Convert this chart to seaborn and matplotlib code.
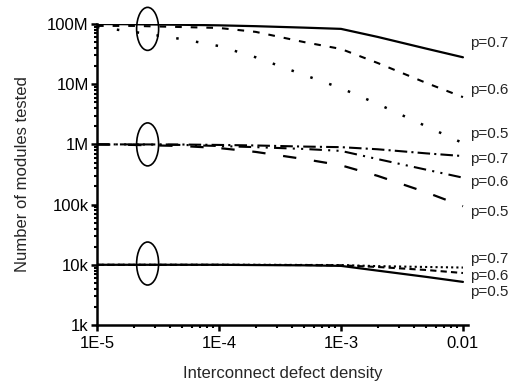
import matplotlib
matplotlib.use("Agg")
import matplotlib.pyplot as plt
import matplotlib.transforms as mtransforms
from matplotlib.patches import Ellipse
from matplotlib.ticker import LogLocator, NullFormatter, FixedLocator, FixedFormatter
import numpy as np
import pandas as pd
import seaborn as sns

# ---------------- data ----------------
density = [1e-5, 2e-5, 5e-5, 1e-4, 2e-4, 5e-4, 1e-3, 2e-3, 5e-3, 1e-2]

top_p07 = [1.0e8, 9.9e7, 9.7e7, 9.5e7, 9.2e7, 8.7e7, 8.3e7, 6.1e7, 3.9e7, 2.8e7]
top_p06 = [9.3e7, 9.3e7, 8.9e7, 8.6e7, 7.4e7, 5.0e7, 3.85e7, 2.25e7, 1.05e7, 6.1e6]
top_p05 = [8.9e7, 7.4e7, 5.6e7, 4.3e7, 2.8e7, 1.42e7, 8.6e6, 4.7e6, 2.0e6, 1.05e6]

mid_p07 = [1.0e6, 1.0e6, 9.95e5, 9.8e5, 9.6e5, 9.2e5, 9.0e5, 8.3e5, 7.1e5, 6.4e5]
mid_p06 = [1.0e6, 1.0e6, 9.8e5, 9.4e5, 9.0e5, 8.4e5, 7.8e5, 5.7e5, 3.8e5, 2.8e5]
mid_p05 = [1.0e6, 9.8e5, 9.4e5, 8.7e5, 7.5e5, 5.7e5, 4.5e5, 3.0e5, 1.6e5, 9.4e4]

bot_p07 = [1.0e4, 1.0e4, 1.0e4, 1.0e4, 1.0e4, 9.95e3, 9.9e3, 9.5e3, 9.2e3, 9.0e3]
bot_p06 = [1.0e4, 1.0e4, 1.0e4, 1.0e4, 9.95e3, 9.9e3, 9.8e3, 9.2e3, 8.2e3, 7.3e3]
bot_p05 = [1.0e4, 1.0e4, 1.0e4, 1.0e4, 9.9e3, 9.8e3, 9.6e3, 8.0e3, 6.3e3, 5.2e3]

series_names = ["top_p07", "top_p06", "top_p05",
                "mid_p07", "mid_p06", "mid_p05",
                "bot_p07", "bot_p06", "bot_p05"]
series_values = [top_p07, top_p06, top_p05,
                 mid_p07, mid_p06, mid_p05,
                 bot_p07, bot_p06, bot_p05]
series_labels = ["p=0.7", "p=0.6", "p=0.5",
                 "p=0.7", "p=0.6", "p=0.5",
                 "p=0.7", "p=0.6", "p=0.5"]

y_ticks = [1e3, 1e4, 1e5, 1e6, 1e7, 1e8]
y_ticklabels = ["1k", "10k", "100k", "1M", "10M", "100M"]
x_ticks = [1e-5, 1e-4, 1e-3, 1e-2]
x_ticklabels = ["1E-5", "1E-4", "1E-3", "0.01"]

group_centers = [8.3e7, 1.0e6, 1.05e4]   # values where the ellipses sit
ellipse_x = 2.6e-5

# ---------------- styles ----------------
styles = {
    "top_p07": dict(lw=1.6, ls="-"),
    "top_p06": dict(lw=1.5, ls=(0, (3.2, 4.3))),
    "top_p05": dict(lw=1.8, ls=(0, (1, 7))),
    "mid_p07": dict(lw=1.5, ls=(0, (6, 2, 1, 2))),
    "mid_p06": dict(lw=1.5, ls=(0, (6, 3, 1, 3, 1, 3))),
    "mid_p05": dict(lw=1.6, ls=(0, (6, 8))),
    "bot_p07": dict(lw=1.5, ls=(0, (1, 1.5))),
    "bot_p06": dict(lw=1.5, ls=(0, (3, 2))),
    "bot_p05": dict(lw=1.6, ls="-"),
}
# label offsets (points) relative to the line end
label_offsets = {
    "top_p07": 10, "top_p06": 5, "top_p05": 6.5,
    "mid_p07": -2, "mid_p06": -3, "mid_p05": -4.5,
    "bot_p07": 6.5, "bot_p06": -2, "bot_p05": -7,
}

sns.set_style("ticks")
plt.rcParams["font.family"] = ["Liberation Sans", "DejaVu Sans"]

rows = []
for name, vals in zip(series_names, series_values):
    for xv, yv in zip(density, vals):
        rows.append({"series": name, "x": xv, "y": yv})
df = pd.DataFrame(rows)

fig = plt.figure(figsize=(5.16, 3.81), dpi=100)
ax = fig.add_axes([97 / 516, 1 - 325 / 381, (468 - 97) / 516, (325 - 24) / 381])

for name, lab in zip(series_names, series_labels):
    sub = df[df["series"] == name]
    st = styles[name]
    sns.lineplot(data=sub, x="x", y="y", ax=ax, color="black",
                 linewidth=st["lw"], linestyle=st["ls"], estimator=None,
                 sort=False, legend=False)
    ax.lines[-1].set_dash_capstyle("butt")
    ax.annotate(lab, xy=(sub["x"].iloc[-1], sub["y"].iloc[-1]),
                xytext=(5, label_offsets[name]), textcoords="offset points",
                ha="left", va="center", fontsize=11)

ax.set_xscale("log")
ax.set_yscale("log")
ax.set_xlim(1e-5, 1.1e-2)
ax.set_ylim(1e3, 1e8)

ax.xaxis.set_major_locator(FixedLocator(x_ticks))
ax.xaxis.set_major_formatter(FixedFormatter(x_ticklabels))
ax.yaxis.set_major_locator(FixedLocator(y_ticks))
ax.yaxis.set_major_formatter(FixedFormatter(y_ticklabels))
ax.xaxis.set_minor_locator(LogLocator(base=10, subs=np.arange(2, 10)))
ax.yaxis.set_minor_locator(LogLocator(base=10, subs=np.arange(2, 10)))
ax.xaxis.set_minor_formatter(NullFormatter())
ax.yaxis.set_minor_formatter(NullFormatter())

ax.tick_params(which="major", direction="out", length=4, width=1.8,
               labelsize=12, pad=2, color="black", labelcolor="black")
ax.tick_params(axis="x", which="major", pad=4)
ax.tick_params(which="minor", direction="out", length=2.5, width=1.5, color="black")

for side in ["top", "right"]:
    ax.spines[side].set_visible(False)
for side in ["left", "bottom"]:
    ax.spines[side].set_linewidth(1.8)
    ax.spines[side].set_color("black")

ax.set_xlabel("Interconnect defect density", fontsize=12, labelpad=11)
ax.set_ylabel("Number of modules tested", fontsize=12, labelpad=12)

for cy in group_centers:
    tr = fig.dpi_scale_trans + mtransforms.ScaledTranslation(ellipse_x, cy, ax.transData)
    e = Ellipse((0, 0), width=0.22, height=0.43, transform=tr,
                fill=False, edgecolor="black", lw=1.2, zorder=5, clip_on=False)
    ax.add_patch(e)

fig.savefig("out.png", dpi=100)
